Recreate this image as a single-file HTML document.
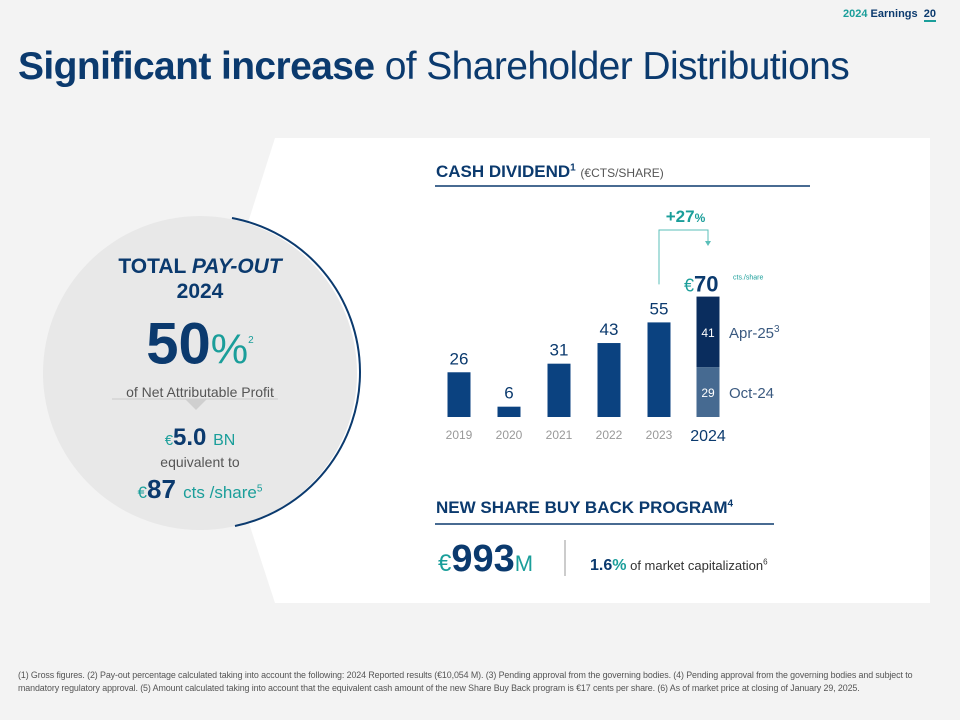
<!DOCTYPE html>
<html><head><meta charset="utf-8"><style>
body{margin:0;width:960px;height:720px;background:#f3f3f3;font-family:"Liberation Sans",sans-serif;position:relative;overflow:hidden}
.abs{position:absolute}
</style></head><body>
<div class="abs" style="right:24px;top:8px;font-size:11px;font-weight:bold;color:#0b3a6e"><span style="color:#1a9e9a">2024</span> Earnings &nbsp;<span style="border-bottom:2px solid #1a9e9a">20</span></div>
<div class="abs" style="left:18px;top:45px;font-size:39px;color:#0b3a6e;letter-spacing:-0.6px"><b>Significant increase</b> of Shareholder Distributions</div>
<svg class="abs" style="left:0;top:0" width="960" height="720">
<polygon points="275,138 930,138 930,603 275,603 200,373" fill="#fff"/>
<circle cx="200" cy="373" r="157" fill="#e8e8e8"/>
<path d="M232,218 A157,157 0 0 1 235,526" fill="none" stroke="#0b3a6e" stroke-width="2"/>
<line x1="112" y1="399" x2="278" y2="399" stroke="#d4d4d4" stroke-width="1.5"/>
<polygon points="185,399 207,399 196,410" fill="#cfcfcf"/>
<line x1="435" y1="186" x2="810" y2="186" stroke="#0b3a6e" stroke-width="1.5"/>
<line x1="435" y1="524" x2="774" y2="524" stroke="#0b3a6e" stroke-width="1.5"/>
<line x1="565" y1="540" x2="565" y2="576" stroke="#999" stroke-width="1"/>
</svg>
<div class="abs" style="left:90px;top:254px;width:220px;text-align:center;color:#0b3a6e">
<div style="font-size:21px;font-weight:bold;line-height:25px">TOTAL <i>PAY-OUT</i><br>2024</div>
<div style="font-size:58px;font-weight:bold;line-height:70px;margin-top:2px">50<span style="color:#1a9e9a;font-weight:normal;font-size:42px">%</span><sup style="color:#1a9e9a;font-size:10px;font-weight:normal">2</sup></div>
<div style="font-size:14px;color:#555">of Net Attributable Profit</div>
</div>
<div class="abs" style="left:90px;top:424px;width:220px;text-align:center;color:#0b3a6e">
<div style="font-size:24px;font-weight:bold"><span style="color:#1a9e9a;font-size:15px;font-weight:normal">€</span>5.0 <span style="color:#1a9e9a;font-size:16px;font-weight:normal">BN</span></div>
<div style="font-size:14px;color:#555;margin-top:2px">equivalent to</div>
<div style="font-size:26px;font-weight:bold;margin-top:4px"><span style="color:#1a9e9a;font-size:17px;font-weight:normal">€</span>87 <span style="color:#1a9e9a;font-size:17px;font-weight:normal">cts /share<sup style="font-size:10px">5</sup></span></div>
</div>
<div class="abs" style="left:436px;top:162px;font-size:17px;font-weight:bold;color:#0b3a6e">CASH DIVIDEND<sup style="font-size:10px">1</sup> <span style="font-size:12px;font-weight:normal;color:#555">(€CTS/SHARE)</span></div>
<svg class="abs" id="chart" style="left:0;top:0" width="960" height="720"></svg>
<div class="abs" style="left:436px;top:498px;font-size:17px;font-weight:bold;color:#0b3a6e">NEW SHARE BUY BACK PROGRAM<sup style="font-size:10px">4</sup></div>
<div class="abs" style="left:438px;top:538px;font-size:38px;font-weight:bold;color:#0b3a6e"><span style="color:#1a9e9a;font-weight:normal;font-size:24px">€</span>993<span style="color:#1a9e9a;font-weight:normal;font-size:22px">M</span></div>
<div class="abs" style="left:590px;top:557px;font-size:13px;color:#333"><b style="font-size:16px;color:#0b3a6e">1.6<span style="color:#1a9e9a">%</span></b> of market capitalization<sup style="font-size:8px">6</sup></div>
<div class="abs" style="left:18px;top:669px;width:930px;font-size:8.9px;line-height:13px;color:#555;letter-spacing:-0.1px">(1) Gross figures. (2) Pay-out percentage calculated taking into account the following: 2024 Reported results (€10,054 M). (3) Pending approval from the governing bodies. (4) Pending approval from the governing bodies and subject to mandatory regulatory approval. (5) Amount calculated taking into account that the equivalent cash amount of the new Share Buy Back program is €17 cents per share. (6) As of market price at closing of January 29, 2025.</div>
<script>
const years=["2019","2020","2021","2022","2023"];
const values=[26,6,31,43,55];
const oct24=[29];
const apr25=[41];
const total2024=[70];
const svg=document.getElementById('chart');
const NS='http://www.w3.org/2000/svg';
const base=417,k=1.72,x0=459,step=50;
const xs=i=>x0+i*step, ys=v=>v*k;
function mk(t,a,txt){const e=document.createElementNS(NS,t);for(const n in a)e.setAttribute(n,a[n]);if(txt!==undefined)e.textContent=txt;svg.appendChild(e);return e;}
values.forEach((v,i)=>{
 const r=mk('rect',{x:xs(i)-11.5,y:base-ys(v),width:23,height:ys(v),fill:'#0b4280'});
 
 
 const l=mk('text',{x:xs(i),y:base-ys(v)-8,'text-anchor':'middle','font-size':17,fill:'#0b3a6e','font-family':'Liberation Sans'},v);
 
 
 const t=mk('text',{x:xs(i),y:base+22,'text-anchor':'middle','font-size':12,fill:'#999','font-family':'Liberation Sans'},years[i]);
 
 
});
const x24=xs(5)-1;
const h1=ys(oct24[0]),h2=ys(apr25[0]);
const b1=mk('rect',{x:x24-11.5,y:base-h1,width:23,height:h1,fill:'#466a91'});


const b2=mk('rect',{x:x24-11.5,y:base-h1-h2,width:23,height:h2,fill:'#0a2d5e'});


const l1=mk('text',{x:x24,y:base-h1/2+5,'text-anchor':'middle','font-size':12,fill:'#fff','font-family':'Liberation Sans'},oct24[0]);


const l2=mk('text',{x:x24,y:base-h1-h2/2+5,'text-anchor':'middle','font-size':12,fill:'#fff','font-family':'Liberation Sans'},apr25[0]);


const n1=mk('text',{x:x24+21,y:base-h1/2+6,'font-size':15,fill:'#3b5a80','font-family':'Liberation Sans'},'Oct-24');


const n2=mk('text',{x:x24+21,y:base-h1-h2/2+6,'font-size':15,fill:'#3b5a80','font-family':'Liberation Sans'},'');
n2.innerHTML='Apr-25<tspan font-size="10" dy="-6">3</tspan>';


const ty=mk('text',{x:x24,y:base+24,'text-anchor':'middle','font-size':16,fill:'#0b3a6e','font-family':'Liberation Sans'},'2024');


const top24=base-ys(total2024[0]);
const tt=mk('text',{x:x24-24,y:top24-5,'font-size':22,'font-weight':'bold',fill:'#0b3a6e','font-family':'Liberation Sans'},'');
tt.innerHTML='<tspan fill="#1a9e9a" font-weight="normal" font-size="18">€</tspan>'+total2024[0];


const cs=mk('text',{x:x24+25,y:top24-17,'font-size':7,fill:'#1a9e9a','font-family':'Liberation Sans'},'cts./share');


const ar=mk('path',{d:`M${xs(4)},${base-ys(values[4])-38} V230 H${x24} V242`,fill:'none',stroke:'#5bbfb9','stroke-width':1});


const ah=mk('polygon',{points:`${x24-3},241 ${x24+3},241 ${x24},246`,fill:'#5bbfb9'});


const g=mk('text',{x:(xs(4)+x24)/2+2,y:222,'text-anchor':'middle','font-size':17,'font-weight':'bold',fill:'#1a9e9a','font-family':'Liberation Sans'},'');
g.innerHTML='+27<tspan font-size="12">%</tspan>';


</script>
</body></html>
